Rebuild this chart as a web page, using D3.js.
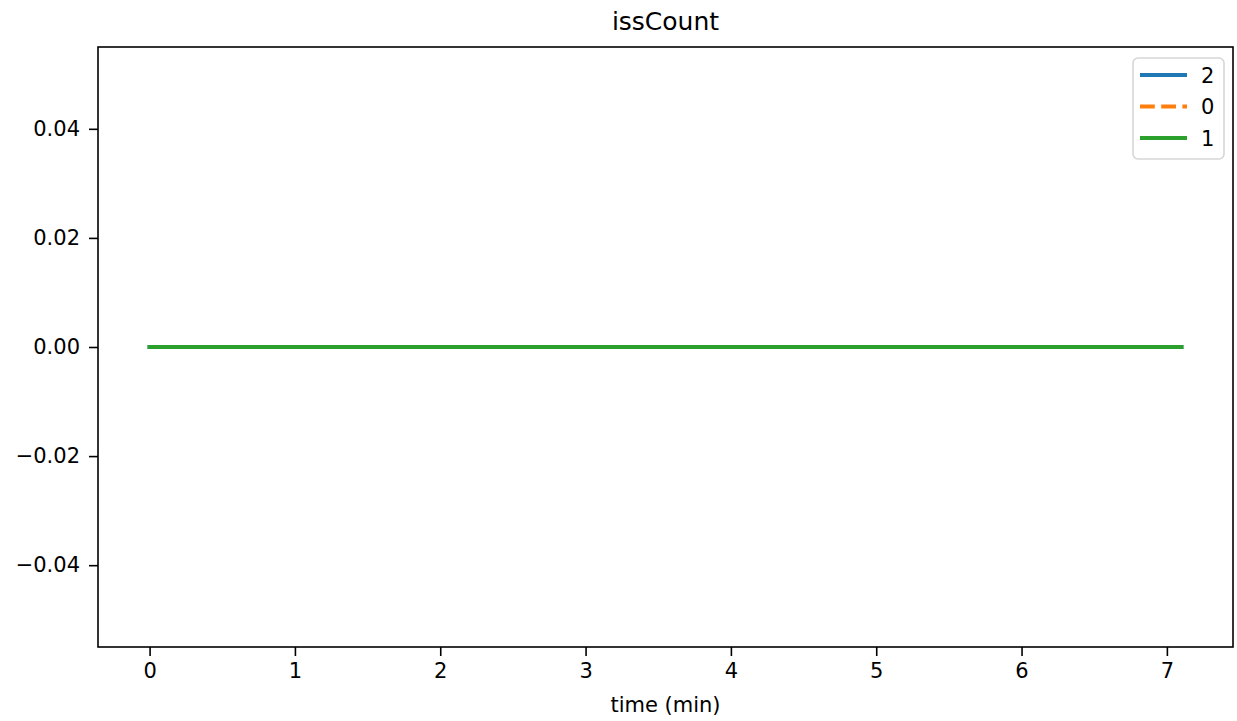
<!DOCTYPE html>
<html><head><meta charset="utf-8">
<script src="https://cdn.jsdelivr.net/npm/d3@7"></script>
<style>body{margin:0;background:#fff}svg{display:block}text{font-family:"DejaVu Sans",sans-serif;fill:#000}</style>
</head><body><svg id="c" width="1237" height="721"></svg>
<script>
const title = "issCount";
const xLabel = "time (min)";
const times = [0, 0.5, 1, 1.5, 2, 2.5, 3, 3.5, 4, 4.5, 5, 5.5, 6, 6.5, 7, 7.1];
const series2 = [0, 0, 0, 0, 0, 0, 0, 0, 0, 0, 0, 0, 0, 0, 0, 0];
const series0 = [0, 0, 0, 0, 0, 0, 0, 0, 0, 0, 0, 0, 0, 0, 0, 0];
const series1 = [0, 0, 0, 0, 0, 0, 0, 0, 0, 0, 0, 0, 0, 0, 0, 0];
const seriesNames = ["2", "0", "1"];
const seriesColors = ["#1f77b4", "#ff7f0e", "#2ca02c"];
const seriesDash = [null, "14.8,6.4", null];
const xTicks = [0, 1, 2, 3, 4, 5, 6, 7];
const yTicks = [-0.04, -0.02, 0.00, 0.02, 0.04];

const svg = d3.select("#c");
const L = 98, R = 1233, T = 47, B = 647;
const x = d3.scaleLinear().domain([-0.355, 7.455]).range([L, R]);
const y = d3.scaleLinear().domain([-0.055, 0.055]).range([B, T]);

const data = [series2, series0, series1];
const line = d3.line().x((d, i) => x(times[i])).y(d => y(d));
data.forEach((s, k) => {
  svg.append("path").datum(s).attr("d", line).attr("fill", "none")
    .attr("stroke", seriesColors[k]).attr("stroke-width", 4)
    .attr("stroke-dasharray", seriesDash[k]).attr("stroke-linecap", seriesDash[k] ? "butt" : "square");
});

// frame
svg.append("rect").attr("x", L).attr("y", T).attr("width", R - L).attr("height", B - T)
  .attr("fill", "none").attr("stroke", "#000").attr("stroke-width", 1.6);

const xa = svg.append("g").attr("transform", `translate(0,${B})`)
  .call(d3.axisBottom(x).tickValues(xTicks).tickFormat(d3.format("d")).tickSize(9).tickPadding(7));
const ya = svg.append("g").attr("transform", `translate(${L},0)`)
  .call(d3.axisLeft(y).tickValues(yTicks).tickFormat(d => d3.format(".2f")(d).replace("-", "\u2212")).tickSize(9).tickPadding(9));
[xa, ya].forEach(a => {
  a.select(".domain").remove();
  a.selectAll(".tick line").attr("stroke", "#000").attr("stroke-width", 1.6);
  a.selectAll(".tick text").style("font-size", "21px").style("font-family", "DejaVu Sans");
});

svg.append("text").attr("x", (L + R) / 2).attr("y", 30).attr("text-anchor", "middle")
  .style("font-size", "25px").text(title);
svg.append("text").attr("x", (L + R) / 2).attr("y", 712).attr("text-anchor", "middle")
  .style("font-size", "21px").text(xLabel);

// legend
const lg = svg.append("g");
lg.append("rect").attr("x", 1133).attr("y", 58).attr("width", 91).attr("height", 101).attr("rx", 5)
  .attr("fill", "#fff").attr("fill-opacity", 0.8).attr("stroke", "#d6d6d6").attr("stroke-width", 1.6);
seriesNames.forEach((n, k) => {
  const yy = 75 + k * 31.5;
  lg.append("line").attr("x1", 1140).attr("x2", 1187).attr("y1", yy).attr("y2", yy)
    .attr("stroke", seriesColors[k]).attr("stroke-width", 4).attr("stroke-dasharray", seriesDash[k]);
  lg.append("text").attr("x", 1201).attr("y", yy + 7.5).style("font-size", "21px").text(n);
});
</script></body></html>
